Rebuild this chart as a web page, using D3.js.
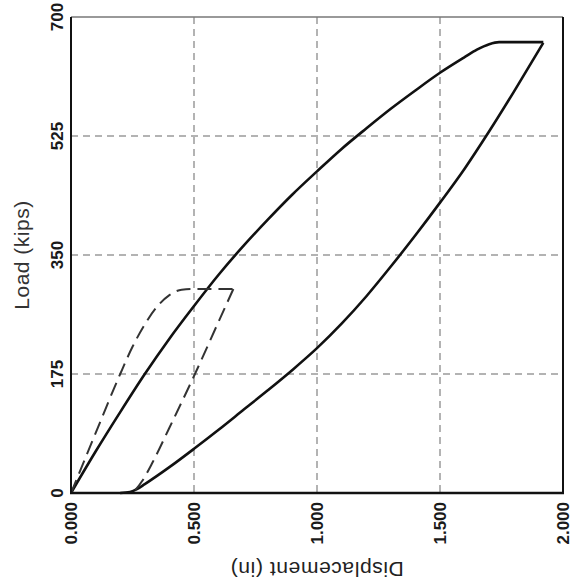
<!DOCTYPE html>
<html>
<head>
<meta charset="utf-8">
<script src="https://cdn.jsdelivr.net/npm/d3@7"></script>
<style>
    body { margin: 0; background: #fff; }
    text { font-family: "Liberation Sans", Arial, sans-serif; }
</style>
</head>
<body>
<svg id="chart"></svg>
<script>
"use strict";

// tick values
const xTicks = [0, 0.5, 1.0, 1.5, 2.0];
const yTicks = [0, 175, 350, 525, 700];

// main cycle (solid), [displacement, load]
const solidLoading = [
    [0, 0], [0.1, 61], [0.2, 119], [0.3, 175], [0.4, 227], [0.5, 275],
    [0.6, 321], [0.7, 363], [0.8, 402], [0.9, 439], [1.0, 473], [1.1, 506],
    [1.2, 536], [1.3, 565], [1.4, 592], [1.5, 618], [1.6, 641], [1.65, 652],
    [1.7, 660], [1.74, 663], [1.92, 663]
];
const solidUnloading = [
    [1.92, 662], [1.8, 590], [1.7, 532], [1.6, 477], [1.5, 427], [1.4, 379],
    [1.3, 333], [1.2, 289], [1.1, 249], [1.0, 213], [0.9, 181], [0.8, 151],
    [0.7, 122], [0.6, 93], [0.5, 65], [0.4, 38], [0.3, 13], [0.27, 6],
    [0.24, 1.5], [0.2, 0]
];

// small cycle (dashed)
const dashedLoading = [
    [0, 0], [0.1, 88], [0.2, 175], [0.25, 215], [0.3, 248], [0.35, 274],
    [0.4, 291], [0.45, 299], [0.5, 300], [0.66, 300]
];
const dashedUnloading = [
    [0.66, 300], [0.6, 252], [0.5, 172], [0.4, 96], [0.333, 46],
    [0.29, 18], [0.265, 6], [0.248, 0]
];

const width = 572;
const height = 588;
const margin = { top: 17, right: 9, bottom: 95, left: 71 };

const svg = d3.select("#chart")
    .attr("width", width)
    .attr("height", height);

const x = d3.scaleLinear()
    .domain([0, 2])
    .range([margin.left, width - margin.right]);

const y = d3.scaleLinear()
    .domain([0, 700])
    .range([height - margin.bottom, margin.top]);

// grid
svg.append("g")
    .selectAll("line")
    .data(xTicks.slice(1, -1))
    .enter()
    .append("line")
    .attr("x1", d => x(d))
    .attr("x2", d => x(d))
    .attr("y1", y(700))
    .attr("y2", y(0))
    .attr("stroke", "#9a9a9a")
    .attr("stroke-width", 1.5)
    .attr("stroke-dasharray", "7,5");

svg.append("g")
    .selectAll("line")
    .data(yTicks.slice(1, -1))
    .enter()
    .append("line")
    .attr("x1", x(0))
    .attr("x2", x(2))
    .attr("y1", d => y(d))
    .attr("y2", d => y(d))
    .attr("stroke", "#9a9a9a")
    .attr("stroke-width", 1.5)
    .attr("stroke-dasharray", "7,5");

// curves
const line = d3.line()
    .x(d => x(d[0]))
    .y(d => y(d[1]))
    .curve(d3.curveMonotoneX);

for (const series of [solidLoading, solidUnloading]) {
    svg.append("path")
        .datum(series)
        .attr("d", line)
        .attr("fill", "none")
        .attr("stroke", "#111")
        .attr("stroke-width", 2.6)
        .attr("stroke-linejoin", "round");
}

for (const series of [dashedLoading, dashedUnloading]) {
    svg.append("path")
        .datum(series)
        .attr("d", line)
        .attr("fill", "none")
        .attr("stroke", "#333")
        .attr("stroke-width", 2)
        .attr("stroke-dasharray", "14,7");
}

// frame
svg.append("line")
    .attr("x1", x(0)).attr("x2", x(2))
    .attr("y1", y(700)).attr("y2", y(700))
    .attr("stroke", "#777").attr("stroke-width", 1.5);
svg.append("line")
    .attr("x1", x(0)).attr("x2", x(0))
    .attr("y1", y(700)).attr("y2", y(0))
    .attr("stroke", "#111").attr("stroke-width", 2);
svg.append("line")
    .attr("x1", x(2)).attr("x2", x(2))
    .attr("y1", y(700)).attr("y2", y(0))
    .attr("stroke", "#111").attr("stroke-width", 2);
svg.append("line")
    .attr("x1", x(0) - 1).attr("x2", x(2) + 1)
    .attr("y1", y(0)).attr("y2", y(0))
    .attr("stroke", "#111").attr("stroke-width", 2.5);

// tick labels, rotated
svg.append("g")
    .selectAll("text")
    .data(xTicks)
    .enter()
    .append("text")
    .attr("transform", d => `translate(${x(d) + 6}, ${y(0) + 9}) rotate(-90)`)
    .attr("text-anchor", "end")
    .attr("font-size", 17)
    .attr("font-weight", "bold")
    .attr("fill", "#1a1a1a")
    .text(d => d3.format(",.3f")(d));

svg.append("g")
    .selectAll("text")
    .data(yTicks)
    .enter()
    .append("text")
    .attr("transform", d => `translate(${x(0) - 8}, ${y(d)}) rotate(-90)`)
    .attr("text-anchor", "middle")
    .attr("font-size", 17)
    .attr("font-weight", "bold")
    .attr("fill", "#1a1a1a")
    .text(d => d);

// axis titles
svg.append("text")
    .attr("transform", `translate(29, ${(y(0) + y(700)) / 2}) rotate(-90)`)
    .attr("text-anchor", "middle")
    .attr("font-size", 21)
    .attr("letter-spacing", 0.5)
    .attr("fill", "#333")
    .text("Load (kips)");

svg.append("text")
    .attr("transform", `translate(${(x(0) + x(2)) / 2}, 562) rotate(180)`)
    .attr("text-anchor", "middle")
    .attr("font-size", 21)
    .attr("letter-spacing", 0.6)
    .attr("fill", "#222")
    .text("Displacement (in)");
</script>
</body>
</html>
